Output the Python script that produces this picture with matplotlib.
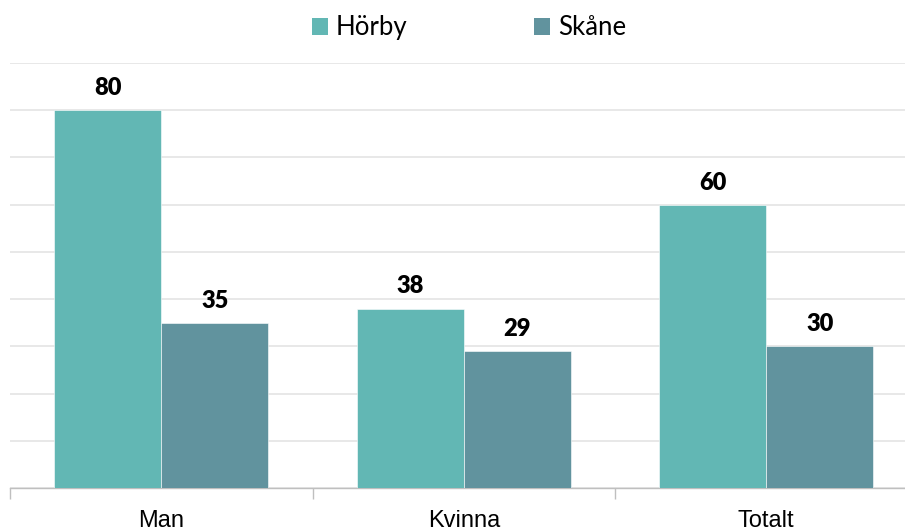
import matplotlib
matplotlib.use("Agg")
import matplotlib.pyplot as plt
from matplotlib.patches import Patch
import numpy as np

categories = ["Man", "Kvinna", "Totalt"]
series_names = ["Hörby", "Skåne"]
horby = [80, 38, 60]
skane = [35, 29, 30]
colors = ["#62B7B4", "#61939E"]

W, H = 905, 532
fig = plt.figure(figsize=(W / 100, H / 100), dpi=100)
ax = fig.add_axes([10 / W, 44 / H, 907.5 / W, 425 / H])

x = np.arange(len(categories))
bw = 0.354
b1 = ax.bar(x - bw / 2, horby, bw, color=colors[0], edgecolor="white", linewidth=0.4, zorder=3)
b2 = ax.bar(x + bw / 2, skane, bw, color=colors[1], edgecolor="white", linewidth=0.4, zorder=3)

for bars, vals in ((b1, horby), (b2, skane)):
    for rect, v in zip(bars, vals):
        ax.annotate(f"{v}", (rect.get_x() + rect.get_width() / 2, v),
                    xytext=(0, 8), textcoords="offset points",
                    ha="center", va="bottom", fontsize=17, fontweight="heavy",
                    family="Lato", color="black")

ax.set_xlim(-0.5, 2.5)
ax.set_ylim(0, 90)
ax.set_yticks(np.arange(0, 91, 10))
ax.yaxis.grid(True, color="#E6E6E6", linewidth=1.3, zorder=0)
ax.tick_params(axis="y", left=False, labelleft=False)
ax.set_xticks(x)
ax.set_xticklabels(categories, family="Liberation Sans", fontsize=17)
ax.tick_params(axis="x", which="major", length=0, pad=16)
ax.set_xticks([-0.5, 0.5, 1.5, 2.5], minor=True)
ax.tick_params(axis="x", which="minor", length=8, color="#BFBFBF", width=1)
for s in ["top", "right", "left"]:
    ax.spines[s].set_visible(False)
ax.spines["bottom"].set_color("#BFBFBF")
ax.spines["bottom"].set_linewidth(1)

handles = [Patch(facecolor=c, edgecolor="none") for c in colors]
fig.legend(handles, series_names, loc="center", bbox_to_anchor=(469 / W, 1 - 28 / H),
           ncol=2, frameon=False, prop={"family": "Lato", "size": 18.5},
           handlelength=0.62, handleheight=0.62, handletextpad=0.3, columnspacing=4.95)

fig.savefig("out.png", dpi=100)
